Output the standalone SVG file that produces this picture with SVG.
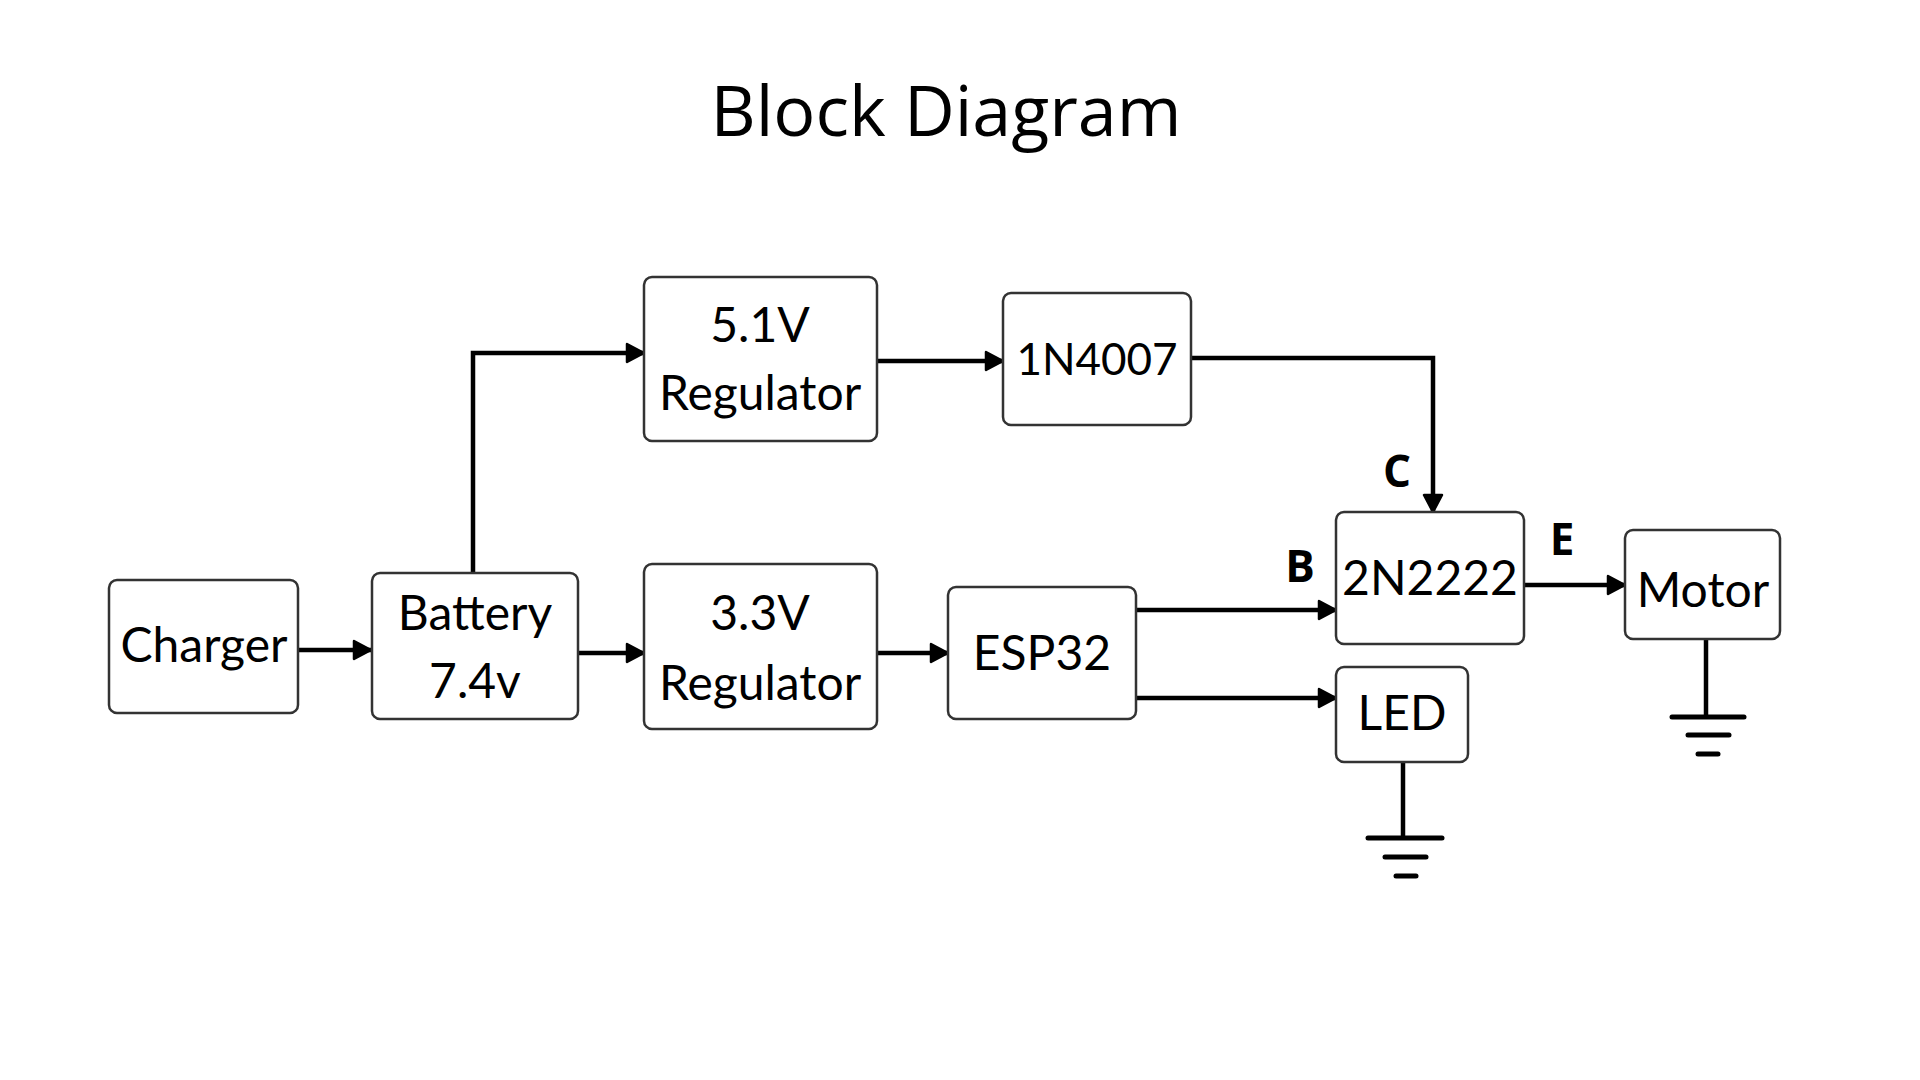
<svg xmlns="http://www.w3.org/2000/svg" width="1920" height="1080" viewBox="0 0 1920 1080">
<style>
.box{fill:#ffffff;stroke:#333333;stroke-width:2.5}
.lbl{font-family:Lato,"Liberation Sans",sans-serif;font-size:48px;fill:#000;text-anchor:middle}
.sm{font-size:44px}
.pin{font-family:"Open Sans","Liberation Sans",sans-serif;font-size:44px;font-weight:bold;fill:#000;text-anchor:middle}
.wire{fill:none;stroke:#000;stroke-width:4.5}
.arr{marker-end:url(#ah)}
.gnd{stroke:#000;stroke-width:5;stroke-linecap:round}
</style>
<defs>
<marker id="ah" markerUnits="userSpaceOnUse" markerWidth="24" markerHeight="24" viewBox="0 0 24 24" refX="20" refY="12" orient="auto">
<path d="M3,3 L20,12 L3,21 Z" fill="#000" stroke="#000" stroke-width="2.5" stroke-linejoin="round"/>
</marker>
</defs>
<rect width="1920" height="1080" fill="#ffffff"/>
<text x="946" y="136" font-family="'Open Sans','Liberation Sans',sans-serif" font-size="70" text-anchor="middle" fill="#000">Block Diagram</text>

<g id="connectors">
<path class="wire arr" d="M298,650 L371,650"/>
<path class="wire arr" d="M473,573 L473,353 L644,353"/>
<path class="wire arr" d="M578,653 L644,653"/>
<path class="wire arr" d="M877,361 L1003,361"/>
<path class="wire arr" d="M1191,358 L1433,358 L1433,512"/>
<path class="wire arr" d="M877,653 L948,653"/>
<path class="wire arr" d="M1136,610 L1336,610"/>
<path class="wire arr" d="M1136,698 L1336,698"/>
<path class="wire arr" d="M1524,585 L1625,585"/>
<path class="wire" d="M1706,639 L1706,717"/>
<path class="wire" d="M1403,762 L1403,838"/>
</g>

<g id="ground-motor">
<line class="gnd" x1="1672" y1="717" x2="1744" y2="717"/>
<line class="gnd" x1="1688" y1="735" x2="1729" y2="735"/>
<line class="gnd" x1="1698" y1="754" x2="1718" y2="754"/>
</g>
<g id="ground-led">
<line class="gnd" x1="1368" y1="838" x2="1442" y2="838"/>
<line class="gnd" x1="1385" y1="857" x2="1426" y2="857"/>
<line class="gnd" x1="1396" y1="876" x2="1416" y2="876"/>
</g>

<g id="charger"><rect class="box" x="109" y="580" width="189" height="133" rx="8"/><text class="lbl" x="204" y="662">Charger</text></g>
<g id="battery"><rect class="box" x="372" y="573" width="206" height="146" rx="8"/><text class="lbl" x="475" y="630">Battery</text><text class="lbl" x="475" y="698">7.4v</text></g>
<g id="reg51"><rect class="box" x="644" y="277" width="233" height="164" rx="8"/><text class="lbl" x="760" y="342">5.1V</text><text class="lbl" x="760" y="410">Regulator</text></g>
<g id="diode"><rect class="box" x="1003" y="293" width="188" height="132" rx="8"/><text class="lbl sm" x="1097" y="375">1N4007</text></g>
<g id="reg33"><rect class="box" x="644" y="564" width="233" height="165" rx="8"/><text class="lbl" x="760" y="630">3.3V</text><text class="lbl" x="760" y="700">Regulator</text></g>
<g id="esp32"><rect class="box" x="948" y="587" width="188" height="132" rx="8"/><text class="lbl" x="1042" y="670">ESP32</text></g>
<g id="transistor"><rect class="box" x="1336" y="512" width="188" height="132" rx="8"/><text class="lbl" x="1430" y="595">2N2222</text></g>
<g id="led"><rect class="box" x="1336" y="667" width="132" height="95" rx="8"/><text class="lbl" x="1402" y="730">LED</text></g>
<g id="motor"><rect class="box" x="1625" y="530" width="155" height="109" rx="8"/><text class="lbl" x="1703" y="607">Motor</text></g>

<g id="pin-labels">
<text class="pin" x="1300" y="582">B</text>
<text class="pin" x="1397" y="487">C</text>
<text class="pin" x="1562" y="555">E</text>
</g>
</svg>
